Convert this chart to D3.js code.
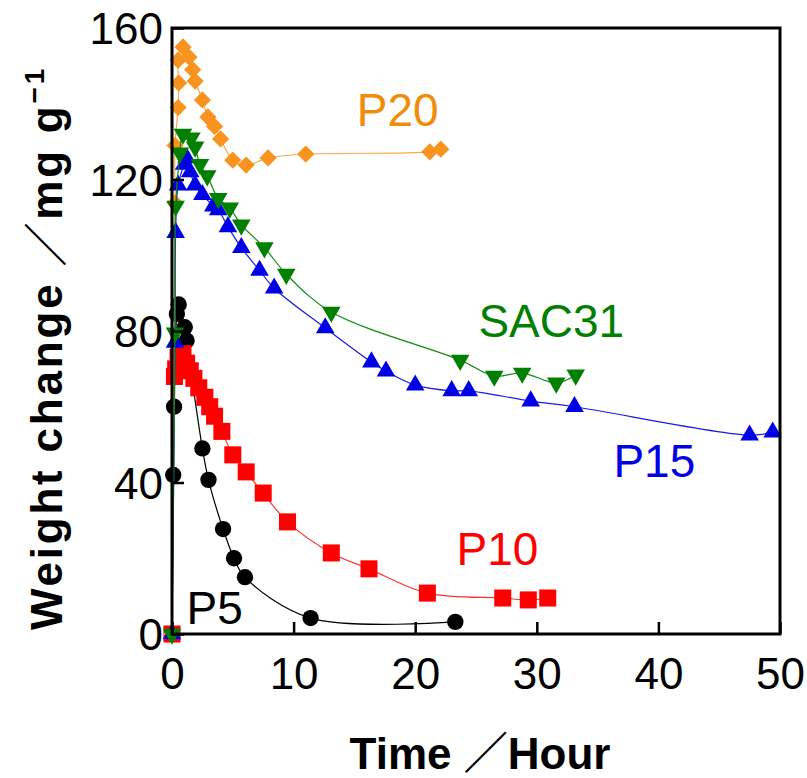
<!DOCTYPE html>
<html lang="en">
<head>
  <meta charset="UTF-8">
  <title>Weight change vs time</title>
  <script src="https://d3js.org/d3.v7.min.js"></script>
  <style>
    body { margin: 0; background: #fff; }
    svg { display: block; font-family: "Liberation Sans", Arial, "Noto Sans CJK JP", sans-serif; }
  </style>
</head>
<body>
  <svg id="chart" width="807" height="778"></svg>
  <script>
    // values (time in hours, weight change in mg/g)
    const p5Time   = [0, 0.1, 0.17, 0.4, 0.55, 1.05, 1.2, 2.5, 3.0, 4.2, 5.1, 6.0, 11.4, 23.3];
    const p5Weight = [0, 42, 60, 84.5, 87, 81, 77.5, 49, 40.7, 27.7, 20, 15, 4.2, 3.2];

    const p10Time   = [0, 0.2, 0.3, 0.5, 0.9, 1.2, 1.5, 1.8, 2.2, 2.7, 3.1, 3.5, 4.1, 5.0, 6.1, 7.5, 9.5, 13.1, 16.2, 21.0, 27.2, 29.3, 30.9];
    const p10Weight = [0, 68, 70, 73, 74, 71.5, 69.5, 67.5, 65, 62.5, 60, 57.5, 53.5, 47.3, 42.8, 37.2, 29.6, 21.4, 17.2, 10.8, 9.5, 9.0, 9.5];

    const p20Time   = [0, 0.25, 0.25, 0.5, 0.55, 0.5, 0.9, 1.4, 1.7, 1.9, 2.5, 2.95, 3.5, 4.0, 5.0, 6.1, 7.9, 11.0, 21.2, 22.1];
    const p20Weight = [0, 113.8, 129, 139, 145.5, 151.5, 155, 152.3, 149, 146, 141, 136.5, 134, 130.7, 125.1, 123.8, 125.7, 126.7, 127.3, 128];

    const p15Time   = [0, 0.25, 0.3, 0.5, 1.0, 1.2, 1.5, 1.9, 2.5, 3.4, 3.8, 4.6, 5.7, 7.2, 8.4, 12.6, 16.4, 17.6, 20.0, 23.0, 24.4, 29.5, 33.1, 47.5, 49.4];
    const p15Weight = [0, 77, 106, 118.5, 124, 125.7, 122, 118.5, 116, 113, 112, 107.5, 102, 96, 91.3, 80.8, 71.8, 69.4, 65.7, 64.2, 64.2, 61.5, 60, 52.5, 53.3];

    const sacTime   = [0, 0.25, 0.3, 0.65, 0.9, 1.6, 1.9, 2.3, 2.9, 3.8, 4.75, 5.7, 7.6, 9.4, 13.1, 23.7, 26.5, 28.8, 31.6, 33.2];
    const sacWeight = [0, 79.5, 113, 127, 132, 131, 128.6, 124, 121, 115, 112.5, 108, 102, 95, 85, 72.3, 68.1, 68.9, 66.3, 68.4];

    const xTicks = [0, 10, 20, 30, 40, 50];
    const yTicks = [0, 40, 80, 120, 160];

    // name, times, weights, marker, colour, line colour, label position (data units)
    const series = [
      { name: 'P5',    t: p5Time,  v: p5Weight,  sym: d3.symbolCircle,   size: 210, color: '#000000', line: '#000000', lx: 1.2,  ly: 2.6 },
      { name: 'P10',   t: p10Time, v: p10Weight, sym: d3.symbolSquare,   size: 290, color: '#ff0000', line: '#ff3030', lx: 23.4, ly: 18.2 },
      { name: 'P20',   t: p20Time, v: p20Weight, sym: d3.symbolDiamond2, size: 190, color: '#f7931e', line: '#f9a94a', lx: 15.2, ly: 134 },
      { name: 'P15',   t: p15Time, v: p15Weight, sym: d3.symbolTriangle, size: 150, color: '#0000e6', line: '#1a1ae6', lx: 36.3, ly: 41.4 },
      { name: 'SAC31', t: sacTime, v: sacWeight, sym: d3.symbolTriangle, size: 150, color: '#008000', line: '#108a10', lx: 25.2, ly: 78.4, flip: true }
    ];

    const margin = { left: 172, top: 28, right: 27, bottom: 144 };
    const W = 807, H = 778;
    const svg = d3.select('#chart');

    const x = d3.scaleLinear().domain([0, 50]).range([margin.left, W - margin.right]);
    const y = d3.scaleLinear().domain([0, 160]).range([H - margin.bottom, margin.top]);

    const line = d3.line().x(d => x(d[0])).y(d => y(d[1])).curve(d3.curveCatmullRom.alpha(0.5));

    series.forEach(s => {
      const pts = s.t.map((t, i) => [t, s.v[i]]);
      const g = svg.append('g');
      g.append('path')
        .attr('d', line(pts))
        .attr('fill', 'none')
        .attr('stroke', s.line)
        .attr('stroke-width', 1.2);
      g.selectAll('path.m')
        .data(pts)
        .join('path')
        .attr('class', 'm')
        .attr('d', d3.symbol().type(s.sym).size(s.size))
        .attr('transform', d => `translate(${x(d[0])},${y(d[1])})` + (s.flip ? ' rotate(180)' : ''))
        .attr('fill', s.color);
    });

    // frame
    svg.append('rect')
      .attr('x', x(0)).attr('y', y(160))
      .attr('width', x(50) - x(0)).attr('height', y(0) - y(160))
      .attr('fill', 'none').attr('stroke', '#000').attr('stroke-width', 3);

    // axes: inward ticks, big labels
    const xAxis = svg.append('g')
      .attr('transform', `translate(0,${y(0)})`)
      .call(d3.axisBottom(x).tickValues(xTicks).tickSize(-12).tickPadding(24).tickFormat(d3.format('d')));
    const yAxis = svg.append('g')
      .attr('transform', `translate(${x(0)},0)`)
      .call(d3.axisLeft(y).tickValues(yTicks).tickSize(-12).tickPadding(9).tickFormat(d3.format('d')));
    [xAxis, yAxis].forEach(a => {
      a.select('.domain').remove();
      a.selectAll('.tick line').attr('stroke', '#000').attr('stroke-width', 2.5);
      a.selectAll('.tick text')
        .attr('fill', '#000')
        .style('font-size', '44px')
        .style('font-family', '"Liberation Sans", Arial, sans-serif');
    });
    yAxis.selectAll('.tick text').attr('dy', '0.36em');

    // series labels
    svg.selectAll('text.lab')
      .data(series)
      .join('text')
      .attr('class', 'lab')
      .attr('x', d => x(d.lx))
      .attr('y', d => y(d.ly))
      .attr('fill', d => d.name === 'P20' ? '#f08c0a' : d.color)
      .style('font-size', '46px')
      .text(d => d.name);

    // axis titles
    svg.append('text')
      .attr('x', 480).attr('y', 769)
      .attr('text-anchor', 'middle')
      .style('font-size', '44px').style('font-weight', 'bold')
      .text('Time ／Hour');

    const yt = svg.append('text')
      .attr('transform', 'translate(62,348) rotate(-90)')
      .attr('text-anchor', 'middle')
      .style('font-size', '44px').style('font-weight', 'bold')
      .style('letter-spacing', '2.8px');
    yt.append('tspan').text('Weight change ／mg g');
    yt.append('tspan').attr('dy', -18).style('font-size', '28px').text('−1');
  </script>
</body>
</html>
